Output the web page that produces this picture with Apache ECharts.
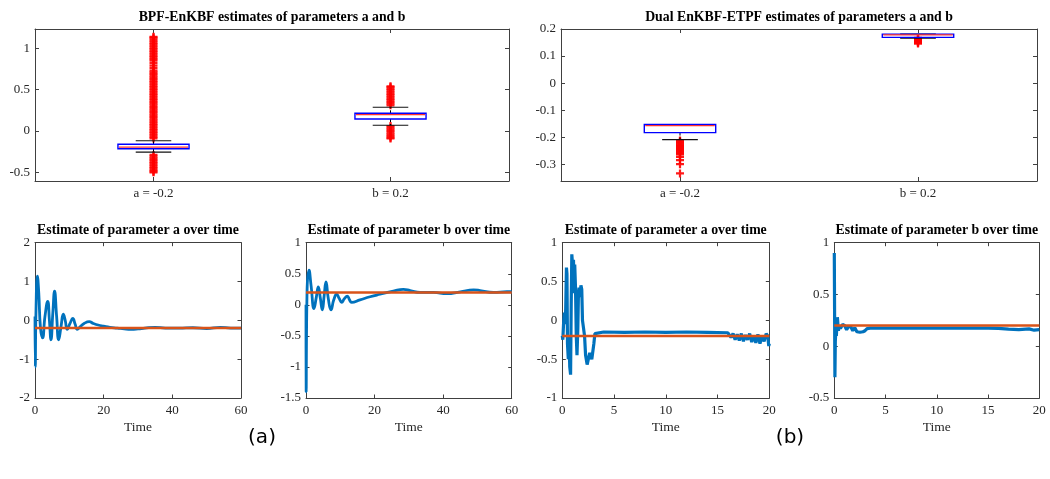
<!DOCTYPE html>
<html>
<head>
<meta charset="utf-8">
<script src="https://cdn.jsdelivr.net/npm/echarts@6/dist/echarts.min.js"></script>
<style>html,body{margin:0;padding:0;background:#fff;}#chart{width:1050px;height:479px;}</style>
</head>
<body>
<div id="chart"></div>
<script>
// ---------------- DATA ----------------
const boxCategories = ['a = -0.2', 'b = 0.2'];
// [lower whisker, q1, median, q3, upper whisker]
const bpfBoxStats = [[-0.256, -0.214, -0.195, -0.161, -0.118], [0.069, 0.145, 0.197, 0.214, 0.287]];
const dualBoxStats = [[-0.209, -0.183, -0.157, -0.153, -0.153], [0.166, 0.169, 0.178, 0.181, 0.181]];

const bpfOutliersA = [-0.09, -0.07, -0.05, -0.03, -0.01, 0.01, 0.03, 0.05, 0.07, 0.09, 0.11, 0.13, 0.15, 0.17, 0.19, 0.21, 0.23, 0.25, 0.27, 0.29, 0.31, 0.33, 0.35, 0.37, 0.39, 0.41, 0.43, 0.45, 0.47, 0.49, 0.51, 0.53, 0.55, 0.57, 0.59, 0.61, 0.63, 0.65, 0.67, 0.69, 0.71, 0.73, 0.76, 0.79, 0.82, 0.85, 0.87, 0.89, 0.91, 0.93, 0.95, 0.97, 0.99, 1.01, 1.03, 1.05, 1.07, 1.09, 1.11, 1.13, 1.14,
  -0.29, -0.31, -0.33, -0.35, -0.37, -0.39, -0.41, -0.43, -0.45, -0.47, -0.49, -0.50];
const bpfOutliersB = [0.31, 0.33, 0.35, 0.37, 0.39, 0.41, 0.43, 0.45, 0.47, 0.49, 0.51, 0.53, 0.54,
  0.06, 0.04, 0.02, 0.00, -0.02, -0.04, -0.06, -0.08, -0.09];
const dualOutliersA = [-0.212, -0.216, -0.22, -0.224, -0.228, -0.232, -0.236, -0.24, -0.244, -0.248, -0.252, -0.256, -0.26, -0.264, -0.273, -0.285, -0.30, -0.334];
const dualOutliersB = [0.167, 0.164, 0.161, 0.158, 0.155, 0.152, 0.149, 0.146];

const bpfBoxYTicks = [-0.5, 0, 0.5, 1];
const dualBoxYTicks = [-0.3, -0.2, -0.1, 0, 0.1, 0.2];

const trueA = -0.2, trueB = 0.2;
const bpfTimeSpan = [0, 60];
const dualTimeSpan = [0, 20];

const bpfTimeA = [0, 0.08, 0.3, 0.7, 1.1, 1.6, 2.2, 2.9, 3.7, 4.2, 4.65, 5.2, 5.7, 6.3, 6.9, 7.6, 8.25, 8.8, 9.4, 10.2, 11, 11.7, 12.3, 13.2, 14.3, 15.8, 17, 18.4, 20, 21.8, 24, 26, 28, 30, 32, 35, 38, 42, 46, 50, 54, 57, 60];
const bpfValA  = [0.1, -1.2, 0.3, 1.14, 0.7, -0.2, -0.45, 0.1, 0.49, 0.0, -0.5, 0.2, 0.75, 0.1, -0.5, -0.15, 0.16, 0.0, -0.23, -0.08, 0.05, -0.1, -0.23, -0.16, -0.08, -0.035, -0.08, -0.12, -0.15, -0.18, -0.2, -0.22, -0.23, -0.22, -0.2, -0.18, -0.2, -0.2, -0.19, -0.21, -0.18, -0.2, -0.2];

const bpfTimeB = [0, 0.05, 0.3, 0.88, 1.5, 2.33, 3.0, 3.59, 4.2, 4.76, 5.3, 5.83, 6.5, 7.29, 8.1, 8.95, 9.7, 10.4, 11.2, 12.05, 12.7, 13.3, 15.75, 18.7, 21.6, 25.5, 28.4, 30.4, 33.3, 37.2, 41.1, 45, 48.9, 50.8, 54.7, 58.6, 60];
const bpfValB  = [0.0, -1.4, 0.2, 0.56, 0.3, -0.06, 0.12, 0.29, 0.1, -0.08, 0.15, 0.37, 0.1, -0.08, 0.08, 0.17, 0.1, 0.04, 0.1, 0.14, 0.08, 0.04, 0.08, 0.13, 0.17, 0.22, 0.25, 0.23, 0.2, 0.2, 0.18, 0.21, 0.24, 0.23, 0.2, 0.21, 0.21];

const dualTimeA = [0, 0.05, 0.12, 0.2, 0.26, 0.33, 0.4, 0.45, 0.5, 0.58, 0.65, 0.72, 0.8, 0.86, 0.92, 1.0, 1.08, 1.15, 1.2, 1.28, 1.35, 1.42, 1.5, 1.56, 1.62, 1.7, 1.8, 1.88, 1.95, 2.05, 2.15, 2.25, 2.4, 2.55, 2.65, 2.75, 2.85, 2.95, 3.05, 3.15, 3.3, 4, 6, 8, 10, 12, 14, 16.0, 16.3, 16.5, 16.7, 16.9, 17.1, 17.3, 17.5, 17.7, 17.9, 18.1, 18.3, 18.5, 18.7, 18.9, 19.1, 19.3, 19.5, 19.7, 19.85, 19.95, 20];
const dualValA  = [-0.2, -0.25, -0.05, 0.1, -0.05, 0.15, 0.68, 0.6, -0.3, -0.5, -0.2, -0.6, -0.7, 0.2, 0.85, 0.7, 0.78, 0.35, 0.72, 0.4, -0.2, -0.45, -0.1, 0.35, 0.42, 0.3, 0.45, 0.4, 0.0, -0.02, -0.2, -0.45, -0.57, -0.55, -0.42, -0.4, -0.5, -0.48, -0.3, -0.17, -0.15, -0.15, -0.155, -0.15, -0.155, -0.15, -0.155, -0.16, -0.22, -0.17, -0.25, -0.18, -0.26, -0.17, -0.27, -0.19, -0.25, -0.17, -0.28, -0.2, -0.29, -0.18, -0.3, -0.2, -0.27, -0.17, -0.2, -0.33, -0.3];

const dualTimeB = [0, 0.03, 0.06, 0.1, 0.15, 0.2, 0.3, 0.4, 0.5, 0.6, 0.8, 1.0, 1.2, 1.4, 1.6, 1.8, 2.0, 2.2, 2.5, 2.8, 3.0, 3.2, 3.5, 6, 9, 12, 15, 16, 17, 18, 19, 19.5, 20];
const dualValB  = [0.9, 0.3, -0.3, 0.05, 0.15, 0.1, 0.28, 0.15, 0.2, 0.17, 0.21, 0.2, 0.16, 0.19, 0.19, 0.15, 0.18, 0.14, 0.135, 0.14, 0.15, 0.17, 0.175, 0.175, 0.175, 0.175, 0.175, 0.172, 0.165, 0.16, 0.168, 0.155, 0.16];

// ---------------- STYLE ----------------
const AXIS_COLOR = '#404040';
const TEXT_COLOR = '#262626';
const SERIF = 'Liberation Serif';
const BLUE = '#0072BD';
const ORANGE = '#D95319';
const PLUS = 'path://M3.6,0H6.4V3.6H10V6.4H6.4V10H3.6V6.4H0V3.6H3.6Z';

const grids = [], xAxes = [], yAxes = [], series = [], graphics = [];

function axisLineStyle() { return {show: true, onZero: false, lineStyle: {color: AXIS_COLOR, width: 1}}; }
function tickStyle(len, extra) { return Object.assign({show: true, inside: true, length: len, lineStyle: {color: AXIS_COLOR, width: 1}}, extra || {}); }
function labelStyle(extra) { return Object.assign({color: TEXT_COLOR, fontFamily: SERIF, fontSize: 13, margin: 5}, extra || {}); }

function addPanel(grid, xSpec, ySpec, tickLen, xName) {
  const gi = grids.length;
  grids.push(grid);
  const xi = xAxes.length, yi = yAxes.length;
  const xTickExtra = xSpec.type === 'category' ? {alignWithLabel: true} : {};
  xAxes.push(Object.assign({gridIndex: gi, position: 'bottom', axisLine: axisLineStyle(), splitLine: {show: false},
    axisTick: tickStyle(tickLen, xTickExtra), axisLabel: labelStyle({margin: 6}),
    name: xName || '', nameLocation: 'middle', nameGap: 22,
    nameTextStyle: {color: TEXT_COLOR, fontFamily: SERIF, fontSize: 13.5}}, xSpec));
  xAxes.push(Object.assign({gridIndex: gi, position: 'top', axisLine: axisLineStyle(), splitLine: {show: false},
    axisTick: tickStyle(tickLen, xTickExtra), axisLabel: {show: false}}, xSpec));
  const yTickExtra = ySpec.ticks ? {customValues: ySpec.ticks} : {};
  const yBase = {type: 'value', min: ySpec.min, max: ySpec.max};
  if (ySpec.interval) yBase.interval = ySpec.interval;
  yAxes.push(Object.assign({gridIndex: gi, position: 'left', axisLine: axisLineStyle(), splitLine: {show: false},
    axisTick: tickStyle(tickLen, yTickExtra), axisLabel: labelStyle(ySpec.ticks ? {customValues: ySpec.ticks} : {})}, yBase));
  yAxes.push(Object.assign({gridIndex: gi, position: 'right', axisLine: axisLineStyle(), splitLine: {show: false},
    axisTick: tickStyle(tickLen, yTickExtra), axisLabel: {show: false}}, yBase));
  return {xi: xi, yi: yi};
}

function renderBox(params, api) {
  const cat = api.value(0);
  const lo = api.coord([cat, api.value(1)]);
  const q1 = api.coord([cat, api.value(2)]);
  const med = api.coord([cat, api.value(3)]);
  const q3 = api.coord([cat, api.value(4)]);
  const hi = api.coord([cat, api.value(5)]);
  const band = api.size([1, 0])[0];
  const w = band * 0.3, cw = w / 2, cx = q1[0];
  const black = {stroke: '#111', lineWidth: 1.1};
  return {type: 'group', children: [
    {type: 'line', shape: {x1: cx, y1: q3[1], x2: cx, y2: hi[1]}, style: {stroke: '#000', lineWidth: 1, lineDash: [3, 2]}},
    {type: 'line', shape: {x1: cx, y1: q1[1], x2: cx, y2: lo[1]}, style: {stroke: '#000', lineWidth: 1, lineDash: [3, 2]}},
    {type: 'line', shape: {x1: cx - cw / 2, y1: hi[1], x2: cx + cw / 2, y2: hi[1]}, style: black},
    {type: 'line', shape: {x1: cx - cw / 2, y1: lo[1], x2: cx + cw / 2, y2: lo[1]}, style: black},
    {type: 'rect', shape: {x: cx - w / 2, y: q3[1], width: w, height: q1[1] - q3[1]}, style: {fill: 'none', stroke: '#0000FF', lineWidth: 1.4}},
    {type: 'line', shape: {x1: cx - w / 2 + 1, y1: med[1], x2: cx + w / 2 - 1, y2: med[1]}, style: {stroke: '#FF3030', lineWidth: 1.2}}
  ]};
}

function addBoxPlot(axes, stats, outA, outB) {
  series.push({type: 'scatter', xAxisIndex: axes.xi, yAxisIndex: axes.yi, symbol: PLUS, symbolSize: 8,
    itemStyle: {color: '#FF0000', opacity: 0.9}, silent: true, z: 2,
    data: outA.map(v => [0, v]).concat(outB.map(v => [1, v]))});
  series.push({type: 'custom', xAxisIndex: axes.xi, yAxisIndex: axes.yi, renderItem: renderBox, z: 3,
    encode: {x: 0, y: [1, 2, 3, 4, 5]}, data: stats.map((s, i) => [i].concat(s))});
}

function addTimePanel(axes, times, vals, truth, span, smooth, width) {
  series.push({type: 'line', xAxisIndex: axes.xi, yAxisIndex: axes.yi, showSymbol: false, smooth: smooth,
    lineStyle: {color: BLUE, width: width}, itemStyle: {color: BLUE}, z: 2,
    data: times.map((t, i) => [t, vals[i]])});
  series.push({type: 'line', xAxisIndex: axes.xi, yAxisIndex: axes.yi, showSymbol: false,
    lineStyle: {color: ORANGE, width: 2.5}, itemStyle: {color: ORANGE}, z: 3,
    data: [[span[0], truth], [span[1], truth]]});
}

// top-left box plot
const p1 = addPanel({left: 35, top: 29, width: 474, height: 152},
  {type: 'category', data: boxCategories, boundaryGap: true},
  {min: -0.605, max: 1.234, ticks: bpfBoxYTicks}, 4);
addBoxPlot(p1, bpfBoxStats, bpfOutliersA, bpfOutliersB);

// top-right box plot
const p2 = addPanel({left: 561, top: 29, width: 476, height: 152},
  {type: 'category', data: boxCategories, boundaryGap: true},
  {min: -0.362, max: 0.2, ticks: dualBoxYTicks}, 4);
addBoxPlot(p2, dualBoxStats, dualOutliersA, dualOutliersB);

// bottom panels
const p3 = addPanel({left: 35, top: 242.7, width: 206, height: 155.3},
  {type: 'value', min: bpfTimeSpan[0], max: bpfTimeSpan[1], interval: 20},
  {min: -2, max: 2, interval: 1}, 3.5, 'Time');
addTimePanel(p3, bpfTimeA, bpfValA, trueA, bpfTimeSpan, 0.5, 2.8);

const p4 = addPanel({left: 306, top: 242.7, width: 205.7, height: 155.3},
  {type: 'value', min: bpfTimeSpan[0], max: bpfTimeSpan[1], interval: 20},
  {min: -1.5, max: 1, interval: 0.5}, 3.5, 'Time');
addTimePanel(p4, bpfTimeB, bpfValB, trueB, bpfTimeSpan, 0.5, 2.8);

const p5 = addPanel({left: 562.3, top: 242.7, width: 207, height: 155.3},
  {type: 'value', min: dualTimeSpan[0], max: dualTimeSpan[1], interval: 5},
  {min: -1, max: 1, interval: 0.5}, 3.5, 'Time');
addTimePanel(p5, dualTimeA, dualValA, trueA, dualTimeSpan, false, 3.2);

const p6 = addPanel({left: 834.3, top: 242.7, width: 205, height: 155.3},
  {type: 'value', min: dualTimeSpan[0], max: dualTimeSpan[1], interval: 5},
  {min: -0.5, max: 1, interval: 0.5}, 3.5, 'Time');
addTimePanel(p6, dualTimeB, dualValB, trueB, dualTimeSpan, false, 3.2);

// titles and captions
function addText(text, x, y, size, bold, family) {
  graphics.push({type: 'text', x: x, y: y, silent: true, style: {text: text, fill: '#000', fontSize: size,
    fontWeight: bold ? 'bold' : 'normal', fontFamily: family || SERIF, align: 'center', verticalAlign: 'middle'}});
}
addText('BPF-EnKBF estimates of parameters a and b', 272, 17.3, 13.8, true);
addText('Dual EnKBF-ETPF estimates of parameters a and b', 799, 17.3, 13.8, true);
addText('Estimate of parameter a over time', 138, 230.7, 13.8, true);
addText('Estimate of parameter b over time', 408.8, 230.7, 13.8, true);
addText('Estimate of parameter a over time', 665.8, 230.7, 13.8, true);
addText('Estimate of parameter b over time', 936.8, 230.7, 13.8, true);
addText('(a)', 262, 438, 20, false, 'DejaVu Sans');
addText('(b)', 790, 438, 20, false, 'DejaVu Sans');

const chart = echarts.init(document.getElementById('chart'), null, {renderer: 'canvas'});
chart.setOption({
  animation: false,
  backgroundColor: '#fff',
  grid: grids,
  xAxis: xAxes,
  yAxis: yAxes,
  series: series,
  graphic: graphics
});
</script>
</body>
</html>
